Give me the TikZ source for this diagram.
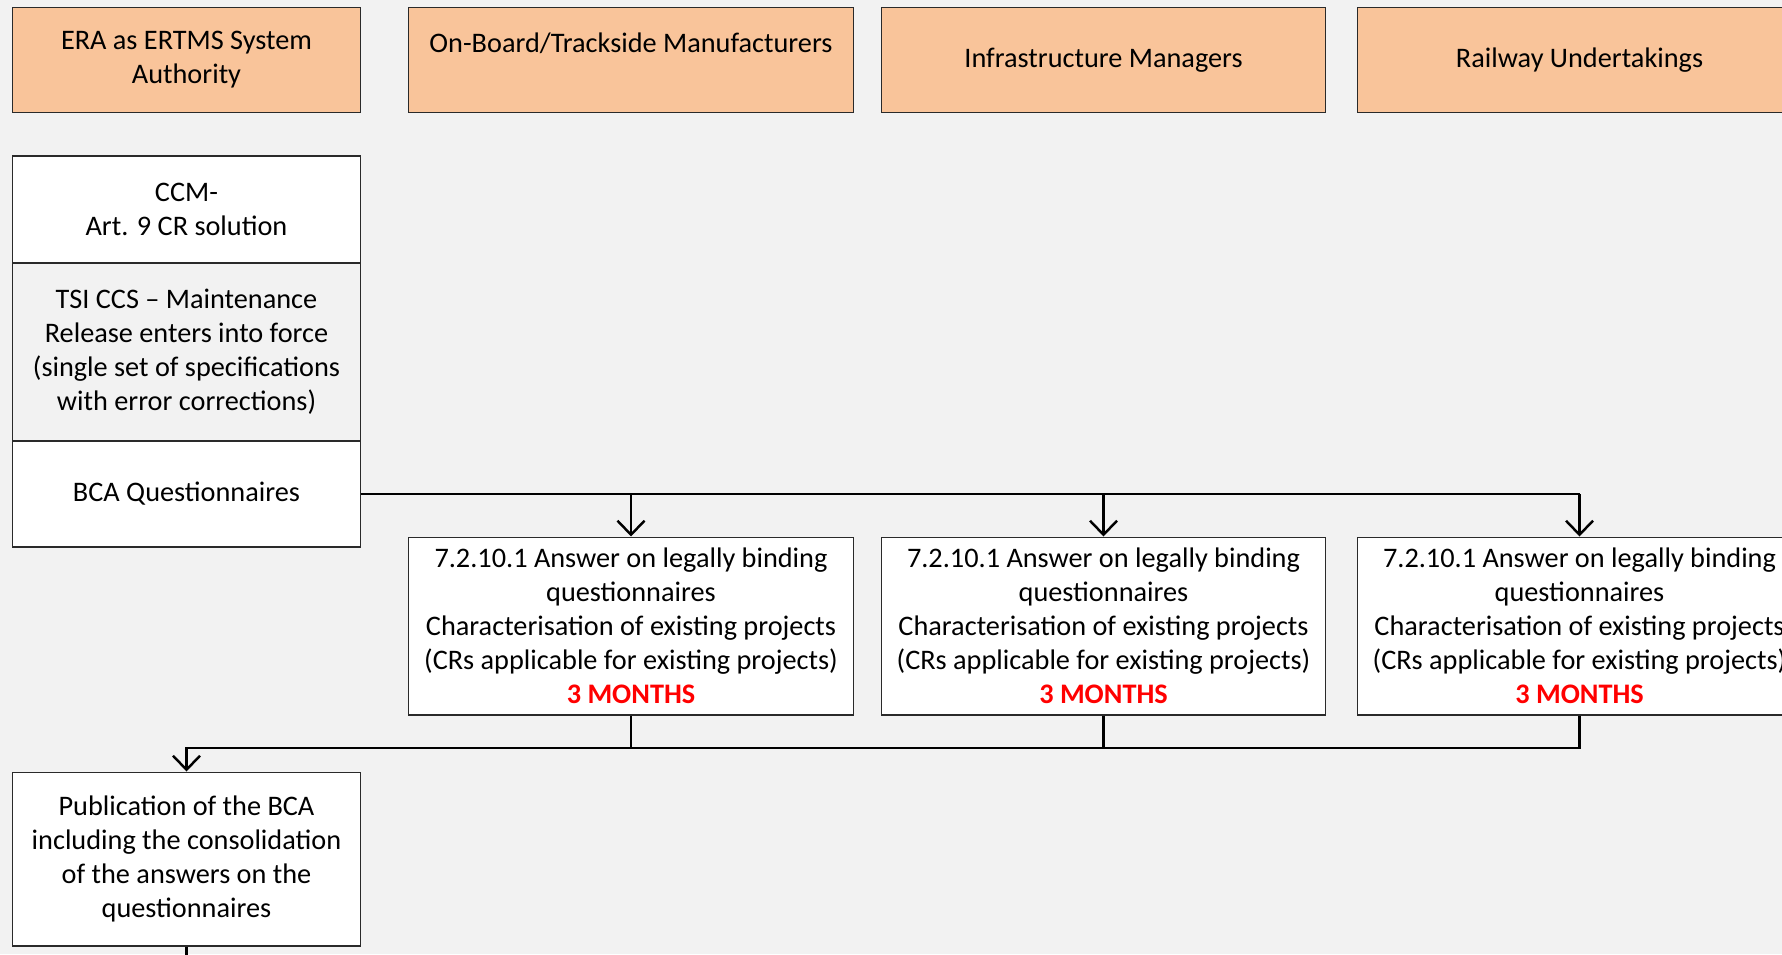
\documentclass[tikz,border=0pt]{standalone}
\usepackage{fontspec}
\setmainfont{Carlito}
\usepackage{xcolor}
\usepackage{tikz}
\usetikzlibrary{arrows.meta,positioning,calc}
\definecolor{bggray}{HTML}{F2F2F2}
\definecolor{peach}{HTML}{F9C49A}
\definecolor{edgegray}{HTML}{2A2A2A}

\tikzset{
	box/.style={draw=edgegray,line width=0.6pt,fill=white,align=center,inner sep=0pt,font=\fontsize{16.1}{19.4}\selectfont},
	role/.style={box,fill=peach,minimum height=2.1cm},
	narrow/.style={minimum width=6.96cm},
	wide/.style={minimum width=8.9cm},
	flow/.style={line width=1.4pt,-{Straight Barb[length=0.28cm,width=0.54cm,line width=1.4pt]}},
	link/.style={line width=1.4pt}
}

\begin{document}
\begin{tikzpicture}[x=0.02cm,y=-0.02cm]
	\useasboundingbox (0,0) rectangle (1782,954);
	\clip (0,0) rectangle (1782,954);
	\fill[bggray] (0,0) rectangle (1782,954);
	\node[role,narrow] (era) at (186.5,60) {ERA as ERTMS System\\Authority};
	\node[role,wide] (obm) at (631,60) {On-Board/Trackside Manufacturers\\\mbox{}};
	\node[role,wide] (im) at (1103.5,60) {Infrastructure Managers};
	\node[role,wide] (ru) at (1579.5,60) {Railway Undertakings};
	\node[box,narrow,minimum height=2.14cm] (ccm) at (186.5,209.5) {CCM-\\Art. 9 CR solution};
	\node[box,narrow,minimum height=3.56cm,fill=bggray] (tsi) at (186.5,352) {TSI CCS -- Maintenance\\Release enters into force\\(single set of specifications\\with error corrections)};
	\node[box,narrow,minimum height=2.12cm] (bca) at (186.5,494) {BCA Questionnaires};
	\node[box,wide,minimum height=3.56cm] (ans1) at (631,626) {7.2.10.1 Answer on legally binding\\questionnaires\\Characterisation of existing projects\\(CRs applicable for existing projects)\\\textcolor{red}{\textbf{3 MONTHS}}};
	\node[box,wide,minimum height=3.56cm] (ans2) at (1103.5,626) {7.2.10.1 Answer on legally binding\\questionnaires\\Characterisation of existing projects\\(CRs applicable for existing projects)\\\textcolor{red}{\textbf{3 MONTHS}}};
	\node[box,wide,minimum height=3.56cm] (ans3) at (1579.5,626) {7.2.10.1 Answer on legally binding\\questionnaires\\Characterisation of existing projects\\(CRs applicable for existing projects)\\\textcolor{red}{\textbf{3 MONTHS}}};
	\node[box,narrow,minimum height=3.48cm] (pub) at (186.5,859) {Publication of the BCA\\including the consolidation\\of the answers on the\\questionnaires};
	\coordinate (join) at (186.5,748);
	\coordinate (next) at (186.5,960);
	\draw[link] (bca.east) -- (bca.east -| ans3.north);
	\draw[flow] (bca.east -| ans1.north) -- (ans1.north);
	\draw[flow] (bca.east -| ans2.north) -- (ans2.north);
	\draw[flow] (bca.east -| ans3.north) -- (ans3.north);
	\draw[link] (ans1.south) -- (ans1.south |- join);
	\draw[link] (ans2.south) -- (ans2.south |- join);
	\draw[flow] (ans3.south) |- (join) -- (pub.north);
	\draw[link] (pub.south) -- (next);
\end{tikzpicture}
\end{document}
